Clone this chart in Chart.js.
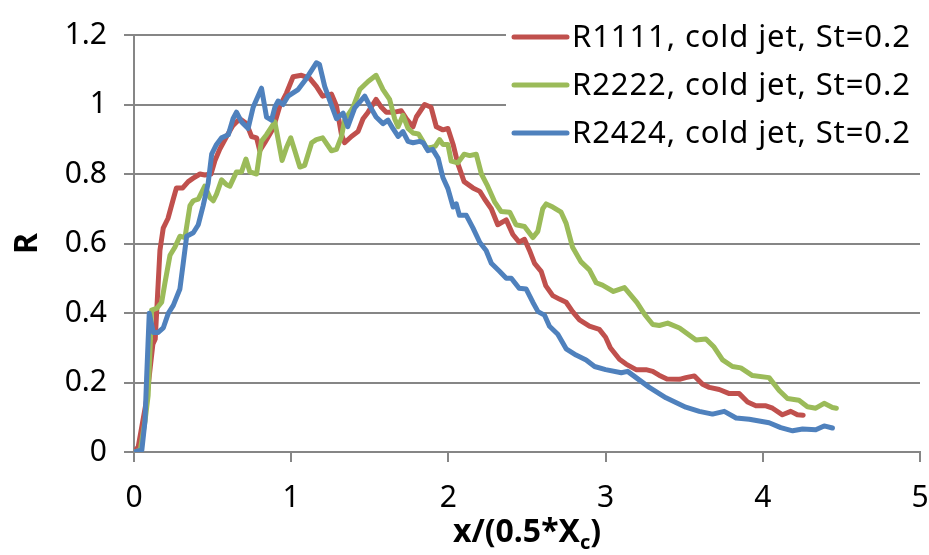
<!DOCTYPE html>
<html>
<head>
<meta charset="utf-8">
<script src="https://cdn.jsdelivr.net/npm/chart.js@4.4.1/dist/chart.umd.min.js"></script>
<style>
  html, body { margin: 0; padding: 0; background: #fff; }
  canvas { display: block; }
</style>
</head>
<body>
<canvas id="chart" width="929" height="555"></canvas>
<script>
const seriesLabels = ["R1111, cold jet, St=0.2", "R2222, cold jet, St=0.2", "R2424, cold jet, St=0.2"];
const seriesColors = ["#C0504D", "#9BBB59", "#4F81BD"];

const xTickLabels = ["0", "1", "2", "3", "4", "5"];
const yTickLabels = ["0", "0.2", "0.4", "0.6", "0.8", "1", "1.2"];

const r1111X = [0, 0.027, 0.08, 0.12, 0.135, 0.165, 0.186, 0.216, 0.25, 0.27, 0.31, 0.345, 0.377, 0.42, 0.45, 0.49,
  0.515, 0.546, 0.589, 0.63, 0.673, 0.716, 0.748, 0.78, 0.8, 0.832, 0.885, 0.928, 0.97, 1.012, 1.065, 1.118,
  1.16, 1.2, 1.256, 1.288, 1.32, 1.34, 1.383, 1.425, 1.457, 1.489, 1.54, 1.574, 1.605, 1.658, 1.7, 1.733,
  1.775, 1.796, 1.849, 1.89, 1.923, 1.965, 1.997, 2.03, 2.06, 2.1, 2.156, 2.2, 2.23, 2.273, 2.314, 2.368,
  2.41, 2.45, 2.484, 2.516, 2.548, 2.59, 2.62, 2.664, 2.706, 2.749, 2.79, 2.834, 2.897, 2.96, 3.0, 3.03,
  3.088, 3.13, 3.194, 3.257, 3.3, 3.34, 3.39, 3.47, 3.51, 3.565, 3.617, 3.66, 3.723, 3.787, 3.85, 3.903,
  3.956, 4.02, 4.062, 4.125, 4.178, 4.22, 4.257];
const r1111Y = [0, 0.015, 0.15, 0.31, 0.325, 0.58, 0.644, 0.672, 0.728, 0.76, 0.76, 0.778, 0.788, 0.8, 0.797, 0.8,
  0.839, 0.872, 0.908, 0.94, 0.959, 0.945, 0.908, 0.904, 0.867, 0.89, 0.931, 0.996, 1.033, 1.08, 1.084, 1.075,
  1.052, 1.024, 1.03, 0.996, 0.913, 0.89, 0.908, 0.922, 0.959, 0.978, 1.015, 0.992, 0.978, 0.978, 0.982, 0.959,
  0.936, 0.964, 1.0, 0.992, 0.936, 0.927, 0.931, 0.885, 0.83, 0.778, 0.76, 0.75, 0.728, 0.7, 0.654, 0.668,
  0.626, 0.604, 0.612, 0.58, 0.543, 0.52, 0.478, 0.45, 0.44, 0.431, 0.404, 0.38, 0.362, 0.353, 0.33, 0.3,
  0.267, 0.253, 0.237, 0.237, 0.232, 0.221, 0.21, 0.209, 0.214, 0.219, 0.195, 0.186, 0.18, 0.168, 0.168, 0.144,
  0.133, 0.133, 0.126, 0.107, 0.117, 0.107, 0.106];

const r2222X = [0, 0.04, 0.07, 0.09, 0.112, 0.144, 0.176, 0.197, 0.229, 0.26, 0.292, 0.324, 0.356, 0.377, 0.409, 0.45,
  0.483, 0.504, 0.525, 0.557, 0.589, 0.61, 0.652, 0.684, 0.712, 0.737, 0.78, 0.81, 0.843, 0.896, 0.942, 0.97,
  0.997, 1.023, 1.055, 1.086, 1.13, 1.16, 1.2, 1.256, 1.288, 1.32, 1.34, 1.393, 1.436, 1.489, 1.54, 1.584,
  1.626, 1.658, 1.68, 1.711, 1.743, 1.775, 1.81, 1.838, 1.86, 1.89, 1.917, 1.944, 1.965, 1.997, 2.018, 2.06,
  2.1, 2.135, 2.177, 2.21, 2.25, 2.294, 2.336, 2.39, 2.43, 2.484, 2.537, 2.569, 2.6, 2.622, 2.664, 2.717,
  2.749, 2.79, 2.844, 2.897, 2.94, 2.98, 3.05, 3.12, 3.172, 3.2, 3.25, 3.3, 3.342, 3.395, 3.47, 3.575,
  3.638, 3.69, 3.744, 3.807, 3.86, 3.934, 4.04, 4.104, 4.157, 4.23, 4.284, 4.337, 4.39, 4.443, 4.468];
const r2222Y = [0, 0.005, 0.089, 0.163, 0.408, 0.413, 0.431, 0.487, 0.566, 0.589, 0.621, 0.617, 0.709, 0.723, 0.728, 0.765,
  0.732, 0.723, 0.742, 0.783, 0.769, 0.765, 0.806, 0.806, 0.843, 0.806, 0.8, 0.894, 0.913, 0.95, 0.839, 0.876,
  0.904, 0.867, 0.82, 0.825, 0.89, 0.899, 0.904, 0.867, 0.871, 0.908, 0.955, 0.992, 1.043, 1.066, 1.084, 1.043,
  1.015, 0.959, 0.936, 0.969, 0.931, 0.918, 0.915, 0.894, 0.875, 0.876, 0.88, 0.899, 0.885, 0.885, 0.837, 0.832,
  0.857, 0.853, 0.857, 0.8, 0.765, 0.72, 0.692, 0.69, 0.654, 0.649, 0.617, 0.635, 0.7, 0.714, 0.705, 0.69,
  0.658, 0.589, 0.547, 0.524, 0.487, 0.48, 0.462, 0.473, 0.445, 0.43, 0.395, 0.367, 0.364, 0.371, 0.357, 0.322,
  0.325, 0.302, 0.265, 0.246, 0.242, 0.22, 0.214, 0.177, 0.154, 0.149, 0.13, 0.126, 0.14, 0.128, 0.126];

const r2424X = [0, 0.05, 0.07, 0.08, 0.097, 0.123, 0.154, 0.186, 0.218, 0.25, 0.292, 0.313, 0.335, 0.377, 0.409, 0.44,
  0.472, 0.494, 0.525, 0.557, 0.6, 0.63, 0.652, 0.684, 0.726, 0.758, 0.811, 0.843, 0.875, 0.896, 0.917, 0.948,
  0.98, 1.044, 1.097, 1.16, 1.18, 1.213, 1.245, 1.288, 1.33, 1.36, 1.404, 1.468, 1.5, 1.54, 1.584, 1.616,
  1.647, 1.68, 1.711, 1.743, 1.775, 1.817, 1.84, 1.87, 1.9, 1.935, 1.965, 1.997, 2.03, 2.05, 2.07, 2.114,
  2.156, 2.2, 2.24, 2.273, 2.325, 2.368, 2.4, 2.45, 2.495, 2.537, 2.57, 2.611, 2.643, 2.696, 2.749, 2.812,
  2.876, 2.93, 3.0, 3.1, 3.14, 3.194, 3.278, 3.384, 3.51, 3.596, 3.68, 3.755, 3.83, 3.914, 4.04, 4.114,
  4.19, 4.253, 4.337, 4.39, 4.443];
const r2424Y = [0, 0.006, 0.089, 0.21, 0.399, 0.344, 0.344, 0.357, 0.399, 0.422, 0.469, 0.543, 0.621, 0.631, 0.654, 0.709,
  0.774, 0.857, 0.885, 0.904, 0.913, 0.959, 0.978, 0.95, 0.931, 0.992, 1.047, 0.964, 0.955, 0.992, 1.01, 1.0,
  1.024, 1.043, 1.075, 1.12, 1.115, 1.052, 1.012, 0.959, 0.975, 0.936, 0.99, 1.024, 0.996, 0.964, 0.945, 0.955,
  0.931, 0.908, 0.922, 0.894, 0.89, 0.894, 0.89, 0.867, 0.871, 0.845, 0.79, 0.758, 0.705, 0.714, 0.681, 0.681,
  0.645, 0.603, 0.58, 0.543, 0.52, 0.5, 0.5, 0.471, 0.469, 0.431, 0.404, 0.394, 0.362, 0.339, 0.297, 0.279,
  0.265, 0.246, 0.237, 0.228, 0.232, 0.214, 0.186, 0.156, 0.129, 0.117, 0.109, 0.117, 0.098, 0.094, 0.084, 0.07,
  0.061, 0.066, 0.064, 0.075, 0.069];

const FONT = "'Noto Sans', 'Open Sans', sans-serif";
const GRID = "#868686";

function toPoints(xs, ys) {
  return xs.map((x, i) => ({ x: x, y: ys[i] }));
}

function makeDataset(i, xs, ys) {
  return {
    label: seriesLabels[i],
    data: toPoints(xs, ys),
    borderColor: seriesColors[i],
    backgroundColor: seriesColors[i],
    borderWidth: 5,
    pointRadius: 0,
    tension: 0,
    borderJoinStyle: "round",
    borderCapStyle: "round",
    order: 3 - i
  };
}

// legend sits inside the plot, on a white box
const legendBox = {
  id: "legendBox",
  afterDatasetsDraw(chart) {
    const c = chart.ctx;
    c.save();
    c.fillStyle = "#fff";
    c.fillRect(506, 0, 423, 158);
    c.font = "31px " + FONT;
    c.letterSpacing = "0.9px";
    c.textBaseline = "middle";
    c.textAlign = "left";
    chart.data.datasets.forEach((ds, i) => {
      const y = 37 + i * 48;
      c.strokeStyle = ds.borderColor;
      c.lineWidth = 5;
      c.lineCap = "round";
      c.beginPath();
      c.moveTo(514, y);
      c.lineTo(567, y);
      c.stroke();
      c.fillStyle = "#000";
      c.fillText(ds.label, 572, y + 1);
    });
    c.restore();
  }
};

// axis titles (x title has a subscript)
const axisTitles = {
  id: "axisTitles",
  afterDraw(chart) {
    const c = chart.ctx;
    const area = chart.chartArea;
    c.save();
    c.fillStyle = "#000";
    c.textBaseline = "alphabetic";
    c.textAlign = "left";
    const big = "bold 32px " + FONT;
    const small = "bold 20px " + FONT;
    c.font = big;
    const p1 = "x/(0.5*X", p3 = ")";
    const w1 = c.measureText(p1).width;
    const w3 = c.measureText(p3).width;
    c.font = small;
    const w2 = c.measureText("c").width;
    let x = (area.left + area.right) / 2 - (w1 + w2 + w3) / 2;
    const base = 542;
    c.font = big;
    c.fillText(p1, x, base);
    x += w1;
    c.font = small;
    c.fillText("c", x, base + 7);
    x += w2;
    c.font = big;
    c.fillText(p3, x, base);

    c.translate(28, (area.top + area.bottom) / 2);
    c.rotate(-Math.PI / 2);
    c.textAlign = "center";
    c.textBaseline = "middle";
    c.font = big;
    c.fillText("R", 0, 0);
    c.restore();
  }
};

const ctx = document.getElementById("chart").getContext("2d");
const chart = new Chart(ctx, {
  type: "line",
  data: {
    datasets: [
      makeDataset(0, r1111X, r1111Y),
      makeDataset(1, r2222X, r2222Y),
      makeDataset(2, r2424X, r2424Y)
    ]
  },
  options: {
    responsive: false,
    animation: false,
    layout: { padding: { top: 20, right: 0, left: 0, bottom: 0 } },
    plugins: {
      legend: { display: false },
      tooltip: { enabled: false }
    },
    scales: {
      x: {
        type: "linear",
        min: 0,
        max: 5,
        afterFit(scale) {
          scale.height = 103;
          scale.paddingLeft = 0;
          scale.paddingRight = 9;
        },
        border: { display: true, color: GRID, width: 2 },
        grid: { drawOnChartArea: false, drawTicks: true, tickLength: 10, color: GRID, lineWidth: 2 },
        ticks: {
          stepSize: 1,
          padding: 18,
          color: "#000",
          font: { family: FONT, size: 30 },
          maxRotation: 0,
          callback: (v, i) => xTickLabels[i]
        }
      },
      y: {
        min: 0,
        max: 1.2,
        afterFit(scale) { scale.width = 134; },
        border: { display: true, color: GRID, width: 2 },
        grid: { drawOnChartArea: true, drawTicks: true, tickLength: 10, color: GRID, lineWidth: 2 },
        ticks: {
          stepSize: 0.2,
          padding: 17,
          color: "#000",
          font: { family: FONT, size: 30 },
          callback: (v, i) => yTickLabels[i]
        }
      }
    }
  },
  plugins: [legendBox, axisTitles]
});
</script>
</body>
</html>
